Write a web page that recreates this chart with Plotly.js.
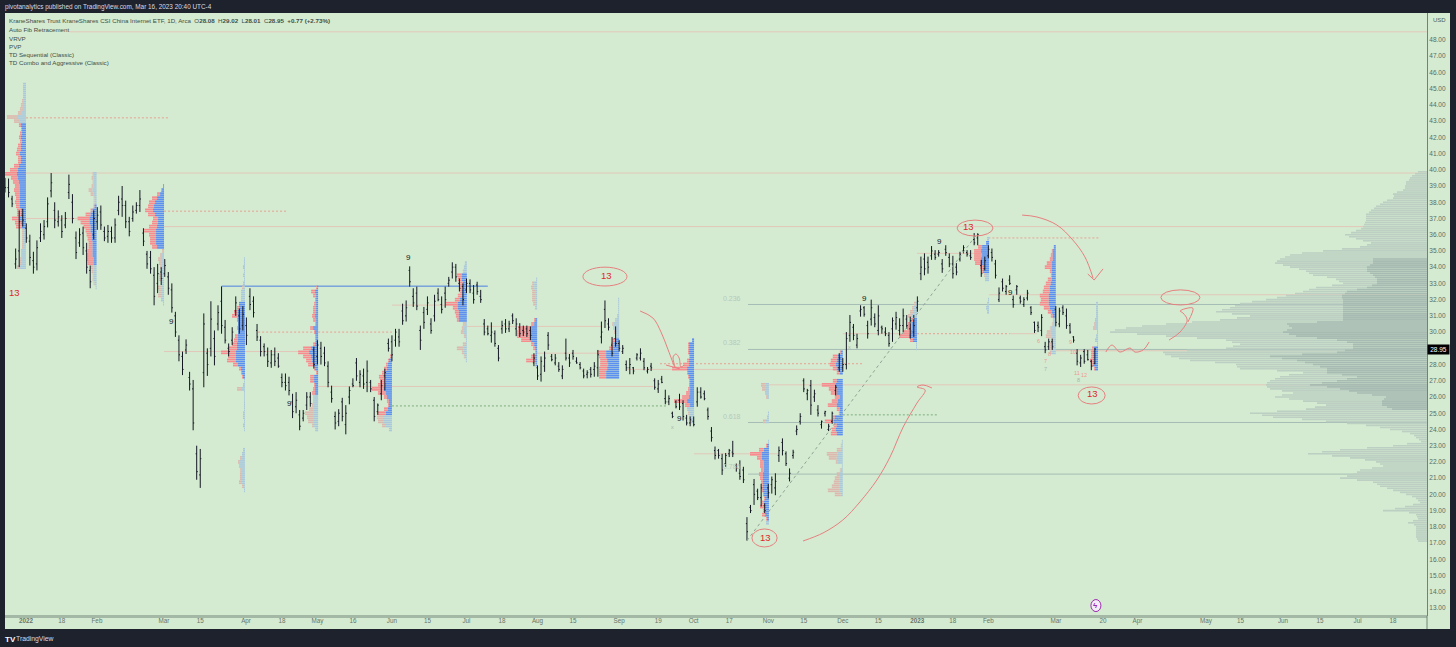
<!DOCTYPE html>
<html><head><meta charset="utf-8">
<script src="https://cdn.plot.ly/plotly-3.0.1.min.js"></script>
<style>html,body{margin:0;padding:0;background:#1e222d}#c{width:1456px;height:647px}</style></head>
<body><div id="c"></div>
<script>
const barHigh=[39.5,39.46,38.4,35.15,37.5,37.6,36.7,36.0,34.95,35.65,36.7,36.9,38.3,39.8,38.0,37.5,37.2,37.4,39.7,38.5,36.2,36.4,36.5,35.5,34.1,37.5,37.7,37.8,36.5,36.6,36.5,37.0,38.4,39.0,38.1,37.1,37.8,38.0,38.75,36.4,35.0,35.0,34.0,34.2,34.0,34.5,33.7,33.0,31.25,29.8,28.8,29.55,27.55,27.05,23.0,22.8,31.15,29.0,31.9,30.1,31.65,32.8,30.75,29.3,30.3,32.2,31.45,31.6,30.9,32.7,32.2,30.5,29.75,29.3,29.05,28.9,29.05,28.7,27.45,27.45,27.25,26.2,26.3,25.2,25.2,26.3,26.3,29.1,29.5,29.4,29.1,28.2,26.7,25.1,25.25,25.95,25.5,26.65,27.15,28.4,27.65,27.75,28.25,27.05,26.0,25.6,27.05,27.75,29.6,29.8,30.2,30.2,31.75,31.95,34.05,32.7,32.8,30.4,31.55,32.2,30.85,32.3,32.7,32.2,32.8,33.4,34.3,34.2,33.3,33.0,33.3,33.25,32.9,33.1,32.6,30.8,30.4,30.6,30.1,29.2,30.7,30.8,30.7,31.15,30.85,30.55,30.4,30.4,30.35,28.7,27.95,28.5,28.8,30.0,28.65,28.65,28.15,27.95,29.6,28.65,28.9,28.45,28.15,27.75,27.65,27.85,28.15,28.9,30.65,31.95,30.85,29.7,30.35,29.5,29.2,28.25,28.4,27.85,28.7,29.0,28.4,27.85,28.1,27.15,27.05,27.3,26.45,26.1,25.1,25.8,26.2,25.8,24.9,24.8,24.8,26.6,26.6,26.4,25.35,24.15,22.95,22.8,22.5,22.55,22.8,23.3,21.9,22.1,21.7,18.6,19.35,20.95,20.35,20.65,19.45,20.65,21.1,21.3,22.95,23.45,22.65,21.6,22.75,24.25,25.0,27.15,26.5,27.05,26.45,25.5,24.55,25.15,24.35,25.1,26.75,28.7,28.4,30.0,31.05,30.5,29.9,31.65,31.6,30.7,32.0,31.15,31.65,30.4,30.3,30.0,30.9,31.25,30.85,31.45,31.05,30.95,31.05,32.2,34.65,34.85,34.65,35.3,35.05,35.05,34.5,35.35,34.85,34.7,34.25,34.95,35.35,35.05,35.05,36.1,36.1,34.45,34.65,35.35,35.15,34.45,32.75,33.3,32.9,33.5,32.25,32.9,32.25,32.15,32.6,31.6,30.65,30.65,31.1,29.4,29.6,29.6,31.6,31.5,31.65,31.45,30.55,29.75,28.95,28.6,28.95,28.9,28.3,29.02];
const barLow=[38.6,38.3,37.7,33.9,34.0,36.5,35.5,34.1,33.6,33.8,35.55,35.7,36.45,38.3,36.4,36.5,35.8,36.4,38.2,36.7,34.5,35.25,34.75,33.6,32.7,35.7,36.3,36.3,35.6,35.5,35.5,35.5,37.2,37.1,36.4,35.9,36.8,37.3,37.4,35.3,33.9,33.6,31.65,32.4,32.9,33.4,32.3,31.2,29.7,28.2,27.35,28.65,26.4,23.95,20.9,20.4,26.6,27.3,28.5,27.95,30.1,29.9,29.3,28.5,29.2,31.0,29.9,30.1,29.2,31.35,30.9,29.45,28.5,28.5,27.85,27.8,27.9,27.8,26.6,26.4,26.1,24.7,25.0,23.95,24.5,25.2,25.4,27.75,28.0,28.0,27.9,26.6,25.65,24.0,24.2,24.5,23.7,25.55,26.6,27.0,26.6,26.5,26.3,26.3,24.5,24.9,25.8,26.4,28.8,28.2,29.1,29.1,30.45,30.65,32.8,31.55,31.35,28.9,30.2,31.05,29.9,30.65,31.9,31.15,31.5,32.8,33.3,33.1,32.5,31.65,32.4,32.4,31.75,32.3,31.8,29.8,29.8,29.35,29.1,28.2,29.9,29.95,30.0,30.5,29.75,29.7,29.75,29.7,29.5,27.9,27.05,26.95,27.55,28.9,28.2,27.95,27.55,27.1,28.25,27.85,28.3,28.05,27.7,27.15,27.15,27.2,27.25,27.25,29.3,30.25,30.1,28.5,29.1,28.8,28.65,27.6,27.4,27.4,28.25,28.25,27.65,27.45,27.6,26.45,26.25,26.85,25.55,25.5,24.7,25.3,25.2,24.55,24.25,24.2,24.2,25.4,25.9,25.8,24.6,23.25,22.15,22.2,21.2,21.7,22.3,22.3,21.4,20.9,20.7,17.15,18.85,19.35,19.65,19.25,18.85,19.75,20.05,19.95,22.0,22.4,21.75,20.8,22.2,23.65,24.3,26.3,25.8,24.9,25.7,24.8,24.05,24.8,23.9,24.35,26.1,27.55,27.55,27.7,29.4,29.5,29.0,30.95,30.95,29.6,30.4,30.3,29.8,29.9,29.75,29.1,29.4,30.15,29.8,30.0,30.2,29.6,29.7,31.25,33.2,33.5,33.6,34.45,34.45,34.65,33.65,34.7,34.0,33.3,33.5,34.35,34.85,34.65,34.45,35.35,35.35,33.4,33.8,34.55,34.35,33.3,31.85,32.5,32.3,32.9,31.5,32.3,31.75,31.55,31.95,31.05,29.95,30.0,29.75,28.7,28.9,28.9,30.35,30.3,31.05,30.2,29.9,29.35,27.95,27.85,28.05,28.25,27.65,28.01];
const barOpen=[39.2,38.9,38.2,34.2,35.0,37.2,36.4,35.6,34.4,34.2,35.8,36.0,36.8,38.7,37.5,36.8,36.9,36.6,38.6,38.0,35.8,35.5,36.1,35.0,33.8,36.0,36.8,37.4,36.2,35.9,36.2,35.8,37.5,38.2,37.8,36.8,37.0,37.5,37.8,36.1,34.8,34.6,33.5,33.0,33.7,33.6,33.4,32.6,31.0,29.5,28.5,28.9,27.2,26.5,22.5,21.2,27.5,28.7,29.0,29.6,30.5,31.9,30.3,29.0,29.5,31.3,31.0,30.4,30.4,32.2,31.9,30.1,29.5,29.1,28.6,28.1,28.6,28.4,27.2,26.9,26.9,25.7,25.4,24.9,24.7,25.5,26.0,28.9,28.5,29.0,28.7,27.9,26.3,24.8,24.5,25.7,24.3,26.0,26.8,28.1,26.9,27.3,26.9,26.9,25.8,25.1,26.2,27.3,29.3,29.4,29.5,29.7,31.3,31.0,33.8,32.2,32.4,30.1,31.2,31.4,30.5,31.0,32.4,31.7,32.4,33.0,33.7,34.0,33.0,32.8,32.6,33.0,32.4,32.9,32.2,30.5,30.2,29.8,29.9,29.0,30.2,30.5,30.2,31.0,30.2,30.3,30.1,30.2,30.1,28.1,27.8,27.4,27.9,29.8,28.5,28.1,27.9,27.3,28.7,28.4,28.7,28.2,28.0,27.6,27.4,27.7,27.7,27.8,29.7,31.4,30.5,29.2,29.6,29.3,28.8,28.0,27.8,27.8,28.4,28.4,28.2,27.6,27.9,27.0,26.5,27.1,25.9,25.7,25.0,25.7,25.8,25.6,24.7,24.4,24.5,25.7,26.3,26.2,25.2,23.9,22.7,22.7,22.2,21.9,22.5,22.6,21.8,21.3,21.5,18.2,19.2,20.6,20.2,19.8,19.3,20.4,20.6,20.4,22.4,23.2,22.5,21.0,22.4,23.9,24.5,27.0,26.2,26.7,26.0,25.2,24.3,25.0,24.0,24.5,26.4,27.8,27.8,28.0,29.8,30.3,29.2,31.3,31.5,30.4,30.8,30.9,30.1,30.3,30.0,29.8,30.2,30.5,30.1,30.4,30.8,30.2,30.0,31.5,33.6,34.5,34.3,34.7,34.8,34.8,34.2,35.1,34.6,34.2,34.0,34.5,35.0,34.9,34.7,35.7,35.8,34.1,33.9,34.7,34.9,34.2,32.0,33.1,32.5,33.2,32.0,32.6,32.1,31.7,32.1,31.5,30.6,30.4,30.1,29.1,29.1,29.4,31.4,30.5,31.5,31.0,30.4,29.7,28.7,28.1,28.8,28.6,28.2,28.08];
const barClose=[38.9,38.6,37.9,34.5,36.8,36.9,35.8,34.6,34.0,35.2,36.2,36.5,37.9,39.2,36.9,37.1,36.2,37.0,39.1,37.0,34.9,36.0,35.2,34.0,33.1,37.0,37.2,36.6,35.8,36.2,35.8,36.6,38.0,37.8,36.8,36.2,37.4,37.8,38.2,35.6,34.2,33.9,32.2,33.6,33.3,34.1,32.7,31.5,30.0,28.6,27.7,29.2,26.8,24.4,21.4,22.2,30.5,28.0,30.8,28.5,31.2,30.4,29.5,28.8,30.0,31.8,30.2,31.1,29.8,31.7,31.2,29.7,28.8,28.8,28.2,28.6,28.2,27.9,26.9,26.7,26.4,25.1,25.8,24.2,25.0,26.0,25.6,28.0,29.2,28.5,28.1,26.9,25.9,24.4,25.0,24.8,25.0,26.4,26.7,27.3,27.4,26.8,27.6,26.5,24.8,25.5,26.7,27.5,29.0,28.6,30.0,29.4,30.7,31.5,33.1,31.8,31.6,29.5,30.6,31.8,30.1,31.9,32.0,31.4,32.0,33.2,34.0,33.4,32.7,32.0,33.0,32.6,32.0,32.5,32.0,30.0,29.9,30.0,29.3,28.4,30.4,30.2,30.5,30.7,30.5,29.9,30.0,29.9,29.8,28.4,27.3,28.2,28.4,29.2,28.3,28.4,27.7,27.7,28.4,28.1,28.5,28.1,27.8,27.3,27.5,27.4,27.9,28.6,30.0,30.7,30.3,28.7,29.3,29.0,29.0,27.8,28.0,27.6,28.6,28.7,27.8,27.7,27.8,26.6,26.8,26.9,25.7,25.9,24.8,25.4,25.4,24.8,24.4,24.6,24.3,26.3,26.0,25.9,24.8,23.5,22.4,22.4,21.5,22.4,22.7,22.5,21.6,21.1,20.9,17.7,19.0,20.0,19.8,20.4,19.0,20.1,20.9,20.8,22.7,22.7,21.9,21.3,22.6,24.0,24.8,26.5,26.4,25.5,26.2,25.0,24.5,25.1,24.2,25.0,26.6,28.4,28.0,29.6,30.6,29.8,29.6,31.4,31.1,29.9,31.5,30.5,31.0,30.2,29.9,29.3,30.7,30.9,30.4,31.0,30.4,30.7,30.4,31.9,34.0,33.9,34.0,35.0,34.6,34.9,33.9,34.9,34.2,33.6,33.7,34.8,35.2,34.8,34.6,35.5,36.0,33.6,34.4,35.1,34.6,33.5,32.4,32.7,32.8,33.0,31.7,32.8,31.9,32.0,32.4,31.2,30.1,30.3,30.9,28.9,29.4,29.1,30.6,31.3,31.2,30.4,30.0,29.5,28.2,28.4,28.2,28.3,27.9,28.95];

const yTicks=[13,14,15,16,17,18,19,20,21,22,23,24,25,26,27,28,29,30,31,32,33,34,35,36,37,38,39,40,41,42,43,44,45,46,47,48];
const xTickVals=[5.9,16,25.9,44.8,55,67.9,78,88,98,109,119,130,140,150,160,173,184,194,204,215,225,236,246,257,267,277,296,309.3,319,338.3,348,360,370.4,381,391];
const xTickText=['<b>2022</b>','18','Feb','Mar','15','Apr','18','May','16','Jun','15','Jul','18','Aug','15','Sep','19','Oct','17','Nov','15','Dec','15','<b>2023</b>','18','Feb','Mar','20','Apr','May','15','Jun','15','Jul','18'];

const up1=[2,2,2,2,2,3,3,4,9,6,5,4,4,5,4,5,5,6,5,5,7,8,9,8,7,6,6,6,6,6,6,5,5,6,5,4,3,3,3,3,3,4,4,5,5,6];
const down1=[1,1,1,1,2,2,3,4,10,6,2,1,2,2,2,3,4,4,3,3,5,8,12,7,6,5,6,5,4,5,4,4,4,8,6,6,1,1,1,1,1,1,1,1,1,3];
const up2=[3,3,3,3,4,3,2,2,2,4,6,7,7,6,6,5,5,4,4,4,4,3,3,3,3,3,3,2,1];
const down2=[1,2,1,2,4,3,1,1,1,2,5,12,9,7,5,5,4,4,4,5,6,7,6,3,2,1,1,1,0];
const up3=[1,2,4,7,9,10,11,9,6,6,7,8,8,8,8,7,1,2,3,3,2,2,3,3,2,2,2,2,2,1];
const down3=[0,1,3,5,6,6,8,7,5,6,8,12,7,6,6,5,1,2,3,2,2,1,2,2,1,4,3,4,1,0];
const up4=[1,1,1,1,1,1,1,2,3,3,3,6,6,7,7,7,7,7,7,7,7,8,8,9,9,9,7,4,3,2,1,1,3,1,1,1,1,1,1,1,1,1,1];
const down4=[0,0,1,0,1,0,1,1,1,1,1,0,2,4,6,1,0,1,0,3,4,5,9,15,8,9,5,2,1,1,0,1,5,0,0,0,0,0,1,1,0,1,0];
const up4b=[2,3,3,5,5,4,4,4,3,2,1];
const down4b=[0,0,2,2,1,1,1,1,3,1,0];
const up5=[1,3,2,2,2,2,2,3,2,2,5,3,2,2,3,7,9,7,6,5,3,1,4,4,3,3,3,4,4,5,5,5,5,5,4,2];
const down5=[1,4,3,1,2,3,3,3,3,1,3,1,1,1,2,8,11,8,6,5,1,1,4,4,1,2,3,1,1,1,4,8,6,5,2,1];
const up6=[1,3,4,5,6,7,6,7,8,6,5,3,3,4,6,9,8,6,2];
const down6=[1,1,2,3,4,6,6,7,12,8,3,2,1,4,8,6,6,4,1];
const up7=[2,3,3,5,5,4,4,5,5,7,9,9,8,8,8,2,3,3,2,1,2,3,3,2,1];
const down7=[0,0,1,5,4,4,3,2,4,5,12,5,4,3,2,2,2,3,1,0,2,7,2,1,0];
const up8=[1,3,3,2,2,2,2,1,0,0,2,3,6,7,7,6,3,2,1,2,2,1];
const down8=[0,2,3,3,3,3,2,1,0,0,1,3,13,13,13,10,3,2,1,4,9,1];
const up9=[1,1,1,1,2,3,6,5,4,3,4,5,6,13,13,12,11,12,13,13];
const down9=[0,0,0,0,0,1,1,1,1,0,3,3,4,9,7,7,8,8,7,7];
const up10=[2,5,5,5,4,5,5,7,6,5,4,4,4,4,5,7,4,6,5,4,3,1];
const down10=[0,1,1,1,1,2,6,15,1,1,1,1,2,4,7,13,5,1,1,1,1,0];
const up11=[3,3,3,2,0,0,0,1,1,3,0,0,0,0,1,2,5,7,7,5,5,5,6,6,6,6,6,5,4,5,4,3,4,2,3];
const down11=[5,4,1,1,0,0,0,0,1,3,0,0,0,0,0,1,5,12,5,4,4,3,4,3,2,1,1,1,1,2,5,3,3,1,0];
const up12=[6,7,6,6,3,5,6,3,3,8,9,6,7,6,0,1,1,2,5,6,5,1,2,3,3,3,3,3,2];
const down12=[4,14,8,6,5,6,9,3,1,2,9,3,4,6,0,0,1,4,11,8,2,0,1,3,5,6,8,12,6];
const up13=[2,5,6,7,6,3];
const down13=[1,5,6,6,4,3];
const up14=[2,3,4,5,4,5,5,6,8,4,1,1];
const down14=[1,2,3,4,2,4,5,8,10,3,0,0];
const up15=[2,3,7,8,7,8,8,6,6,4,3];
const down15=[0,0,4,7,8,7,6,3,2,1,1];
const up15b=[1,2,3,2];
const down15b=[0,0,0,0];
const up16=[2,3,3,3,4,4,4,4,4,5,6,6,7,7,7,6,4,3,2,3,5,5,4,3,4,4,4];
const down16=[0,1,2,3,5,7,2,1,4,5,6,7,9,8,9,6,4,2,1,1,1,4,6,2,2,2,2];
const up17=[2,2,2,2,2,3,3,1,2,3,1,4,5,5,5,5,3];
const down17=[0,0,0,0,1,1,2,0,0,0,0,2,2,2,3,2,1];
// anchor bar, top row price, value-area top, value-area bottom, up rows, down rows
const profileList=[
[5.9,45.25,42.75,36.5,up1,down1],[25.8,39.75,37.75,34.25,up2,down2],[44.8,39,39,35.25,up3,down3],
[67.6,34.5,31.75,27.25,up4,down4],[67.6,22.75,0,0,up4b,down4b],[88.2,32.75,32.75,26.25,up5,down5],
[109,28.5,28.5,25,up6,down6],[130.1,34.25,33.5,30.75,up7,down7],[149.9,33.25,30.75,28,up8,down8],
[173,32,29.5,27.25,up9,down9],[194.1,29.5,29.5,25.5,up10,down10],[215.2,26.75,23,18.5,up11,down11],
[236,27,27,23.75,up12,down12],[236,28.75,28.75,27.5,up13,down13],[256.9,31.75,30.75,29.5,up14,down14],
[277.2,35.75,35.5,33.75,up15,down15],[277.2,32,0,0,up15b,down15b],[296,35.25,35.25,31,up16,down16],[307.9,31.75,29,27.75,up17,down17]];

const vrvpTop=39.875;
const vrvpTotal=[9,12,15,17,18,21,21,22,22,24,30,34,33,34,40,44,47,51,53,56,58,61,61,61,61,62,63,64,66,71,76,82,78,71,64,56,60,67,85,104,125,137,142,147,150,152,144,137,128,121,118,114,100,91,88,84,95,111,118,124,132,141,150,161,175,187,192,197,205,211,195,177,190,207,235,261,285,301,312,317,290,261,230,201,195,187,194,201,240,264,262,256,248,237,212,191,190,187,150,124,138,147,152,157,160,161,160,157,145,134,145,152,138,124,110,101,112,121,150,177,165,154,125,101,80,61,47,37,25,17,13,11,8,6,20,34,60,87,105,119,95,77,62,51,47,44,55,67,70,74,80,87,70,54,50,47,40,34,27,21,15,11,9,7,14,22,32,44,18,11,10,9,14,19,13,11,11,11,11,11,11,10,9];
const vrvpInnerTop=34.5;
const vrvpInner=[54,54,54,57,60,60,60,57,54,52,50,50,50,55,60,70,80,82,85,85,84,84,84,84,84,84,84,84,84,84,84,110,140,138,135,140,144,138,131,110,90,80,74,74,74,82,90,125,157,145,130,122,114,107,100,100,100,85,70,80,90,105,117,100,87,78,70,55,41,43,45,45,45,40,35];

// x0 bar, x1 bar, price
const fibLines=[[209.3,400.5,31.7],[209.3,400.5,28.93],[209.3,400.5,24.43],[209.3,400.5,21.25]];
const pocLines=[[18.3,400.5,48.5],[0,400.5,39.8],[5.9,25.8,37],[44.8,400.5,36.5],[44.8,88.2,28.8],[88.2,182.6,26.65],[109,130,31.66],[130.1,168,30.35],[149.9,168,28.7],[175,236,27.7],[194.1,218,22.5],[215.2,400.5,26.75],[236,256.9,29.9],[283,290.6,29.9],[256.9,275,34.85],[277.2,400.5,32.3],[296,400.5,28.85]];
const redDotted=[[5.9,46.3,43.2],[44.8,79.4,37.45],[71.3,109,30],[184.5,241.5,28.05],[256.9,283,29.9],[277,308,35.8]];
const greenDotted=[[109,186.5,25.45],[236,262.5,24.9]];
const ellipses=[[162.8,175.2,32.84,34.0],[210.4,217.5,16.76,17.87],[268.2,278.3,35.92,36.9],[302.3,309.9,25.57,26.62],[325.6,336.6,31.67,32.6]];

const fibTrendX=[209,274]; const fibTrendY=[17.15,36.1];
const penA_x=[178.9,182.5,184.8,186.8,188.7,188.2,189,189.9,190.4,191.3]; const penA_y=[31.3,30.87,30,28.9,27.85,28.47,28.65,28.4,27.85,27.97];
const penA2_x=[186.2,190.1]; const penA2_y=[27.97,27.73];
const penB_x=[224.8,230.4,236,240.8,245.6,249.3,253,256.9,259.2,256.9,258.6,261.1]; const penB_y=[17.13,17.62,18.42,19.53,20.89,22.3,24.15,25.63,26.43,26.62,26.74,26.56];
const penC_x=[286.5,290.7,296.3,300.8,304.2,306.5]; const penC_y=[37.21,37.09,36.6,35.67,34.63,33.33];
const penC2_x=[305,306.8,309.3]; const penC2_y=[33.58,33.21,33.89];
const penD_x=[310.1,311.8,314.1,316.9,318.3,320.6,322.3]; const penD_y=[28.77,29.2,28.77,29.02,28.77,28.9,29.39];
const penE_x=[327.9,331,333,331.8,331,334.6,333.2]; const penE_y=[29.51,30,30.75,31.18,31.3,31.48,30.62];

const nineX=[46.8,80,113.8,190.1,242,263.1,283.1]; const nineY=[30.68,25.63,34.57,24.65,32.1,35.61,32.47];
const thirteenX=[2.8,169.3,214.1,271.3,306.2]; const thirteenY=[32.41,33.46,17.37,36.48,26.19];
const fibLabels=['0.236','0.382','0.618','0.786']; const fibLabelY=[32.1,29.33,24.83,21.69];
const smallText=['6','7','7','8','9','10','11','12','8','x','x'];
const smallX=[291,293.2,293.2,294.1,300,300.8,302,303.9,302.3,187.9,238];
const smallY=[29.45,28.2,27.75,28.65,29.39,28.77,27.48,27.36,27.05,24.15,29.08];
const smallCol=['#ee9a90','#ee9a90','#a9b5a8','#ee9a90','#ee9a90','#ee9a90','#ee9a90','#ee9a90','#a9b5a8','#a9b5a8','#a9b5a8'];

const pxPerBar=3.55, volToBars=1/pxPerBar, rowStep=0.25, fineStep=0.125, fineHeight=0.1;
const COL={bg:'#d4ebd1',frame:'#1e222d',coreUp:'#5b8ff0',coreDown:'#f78b8e',fadeUp:'#a9c8dc',fadeDown:'#dcb8ae',pen:'#e77f7f',poc:'#e2c7b8',fib:'#a5bdb6'};

const bucket=()=>({y:[],x:[],base:[]});
const cu=bucket(),cd=bucket(),fu=bucket(),fd=bucket();
profileList.forEach(([anchor,top,vt,vb,up,down])=>{
  up.forEach((u,k)=>{
    const p=top-k*rowStep, core=p<=vt&&p>=vb, d=down[k];
    const U=core?cu:fu, D=core?cd:fd;
    [p+fineStep/2,p-fineStep/2].forEach(py=>{
      if(u>0){U.y.push(py);U.x.push(u*volToBars);U.base.push(anchor-u*volToBars);}
      if(d>0){D.y.push(py);D.x.push(d*volToBars);D.base.push(anchor-(u+d)*volToBars);}
    });
  });
});
const barT=(b,color)=>({type:'bar',orientation:'h',y:b.y,x:b.x,base:b.base,width:fineHeight,marker:{color,line:{width:0}},hoverinfo:'skip',showlegend:false});
const vrvpEnd=400.56;
const vo=bucket(); vrvpTotal.forEach((v,k)=>{vo.y.push(vrvpTop-k*fineStep);vo.x.push(v*volToBars);vo.base.push(vrvpEnd-v*volToBars);});
const vi=bucket(); vrvpInner.forEach((v,k)=>{vi.y.push(vrvpInnerTop-k*fineStep);vi.x.push(v*volToBars);vi.base.push(vrvpEnd-v*volToBars);});

const pen=(x,y,shape)=>({type:'scatter',mode:'lines',x,y,line:{color:COL.pen,width:1,shape:shape||'spline',smoothing:1},hoverinfo:'skip',showlegend:false});
const data=[
 barT(vo,'#bccfc2'),barT(vi,'#a8bbb2'),
 barT(fd,COL.fadeDown),barT(fu,COL.fadeUp),barT(cd,COL.coreDown),barT(cu,COL.coreUp),
 {type:'ohlc',x:barHigh.map((_,i)=>i),open:barOpen,high:barHigh,low:barLow,close:barClose,tickwidth:0.3,
  increasing:{line:{color:'#131722',width:1}},decreasing:{line:{color:'#131722',width:1}},hoverinfo:'skip',showlegend:false},
 {type:'scatter',mode:'lines',x:fibTrendX,y:fibTrendY,line:{color:'#8ea596',width:1,dash:'3px,3px'},hoverinfo:'skip',showlegend:false},
 pen(penA_x,penA_y),pen(penA2_x,penA2_y),pen(penB_x,penB_y),pen(penC_x,penC_y),pen(penC2_x,penC2_y,'linear'),pen(penD_x,penD_y),pen(penE_x,penE_y)
];

const hline=(l,color,dash,w)=>({type:'line',layer:'below',xref:'x',yref:'y',x0:l[0],x1:l[1],y0:l[2],y1:l[2],line:{color,width:w||1,dash:dash||'solid'}});
const R=1+23/1422, B=-13/603;
const shapes=[
 {type:'rect',layer:'below',xref:'paper',yref:'paper',x0:1,x1:R,y0:B,y1:1,fillcolor:COL.bg,line:{width:0}},
 {type:'rect',layer:'below',xref:'paper',yref:'paper',x0:0,x1:R,y0:B,y1:0,fillcolor:COL.bg,line:{width:0}},
 {type:'rect',layer:'below',xref:'paper',yref:'paper',x0:0,x1:1,y0:-2/603,y1:1/603,fillcolor:'#a3b9a6',line:{width:0}},
 {type:'line',layer:'below',xref:'paper',yref:'paper',x0:1,x1:1,y0:B,y1:0,line:{color:'#6e8475',width:1}},
 ...fibLines.map(l=>hline(l,COL.fib)),
 ...pocLines.map(l=>hline(l,COL.poc)),
 ...redDotted.map(l=>hline(l,'#e8a090','2px,2px')),
 ...greenDotted.map(l=>hline(l,'#7cae7c','2px,2px')),
 hline([61,136,32.83],'#4a7fe0'),
 {type:'line',layer:'below',xref:'x',yref:'y',x0:61,x1:61,y0:30.1,y1:32.83,line:{color:'#4a7fe0',width:1}},
 ...ellipses.map(e=>({type:'circle',layer:'above',xref:'x',yref:'y',x0:e[0],x1:e[1],y0:e[2],y1:e[3],line:{color:COL.pen,width:1}})),
 {type:'circle',layer:'above',xref:'x',yref:'y',xsizemode:'pixel',ysizemode:'pixel',xanchor:307.3,yanchor:13.15,x0:-5,x1:5,y0:-6,y1:6,fillcolor:'#f3ecf6',line:{color:'#9c27b0',width:1}}
];

const note=(text,x,y,size,color,extra)=>Object.assign({text,x,y,xref:'x',yref:'y',showarrow:false,font:{size,color},xanchor:'center',yanchor:'middle'},extra||{});
const page=(text,pxX,pxY,size,color)=>({text,xref:'paper',yref:'paper',x:(pxX-7)/1422,y:(616-pxY)/603,xanchor:'left',yanchor:'middle',showarrow:false,font:{size,color}});
const annotations=[
 page('pivotanalytics published on TradingView.com, Mar 16, 2023 20:40 UTC-4',5,7.5,6.4,'#d8dbe2'),
 page('KraneShares Trust KraneShares CSI China Internet ETF, 1D, Arca &nbsp;O<b>28.08</b> &nbsp;H<b>29.02</b> &nbsp;L<b>28.01</b> &nbsp;C<b>28.95</b> &nbsp;<b>+0.77 (+2.73%)</b>',9,20.5,6.2,'#3f4d46'),
 page('Auto Fib Retracement',9,29.5,6.2,'#3f4d46'),
 page('VRVP',9,38,6.2,'#3f4d46'),
 page('PVP',9,46.5,6.2,'#3f4d46'),
 page('TD Sequential (Classic)',9,54.5,6.2,'#3f4d46'),
 page('TD Combo and Aggressive (Classic)',9,63,6.2,'#3f4d46'),
 page('USD',1433,19.5,6,'#4c5c53'),
 page('<b>TV</b>',5,639,8,'#ffffff'),
 page('TradingView',16,639,6.8,'#d8dbe2'),
 {text:'28.95',xref:'paper',yref:'y',x:(1439-5)/1422,y:28.95,xanchor:'center',yanchor:'middle',showarrow:false,font:{size:6.5,color:'#ffffff'},bgcolor:'#000000',width:21,height:9,borderpad:0},
 ...nineX.map((x,i)=>note('9',x,nineY[i],8,'#131722')),
 ...thirteenX.map((x,i)=>note('13',x,thirteenY[i],9.5,'#e0262b')),
 ...fibLabels.map((t,i)=>note(t,204.8,fibLabelY[i],7,'#b6c8bc')),
 ...smallText.map((t,i)=>note(t,smallX[i],smallY[i],5.5,smallCol[i])),
 note('<b>ϟ</b>',307.3,13.15,8,'#9c27b0')
];

const layout={
 width:1456,height:647,margin:{l:5,r:29,t:13,b:31,pad:0},
 paper_bgcolor:COL.frame,plot_bgcolor:COL.bg,barmode:'overlay',showlegend:false,hovermode:false,
 font:{family:'"Liberation Sans",Arial,sans-serif',size:7,color:'#4c5c53'},
 xaxis:{range:[0,400.56],tickmode:'array',tickvals:xTickVals,ticktext:xTickText,showgrid:false,zeroline:false,showline:false,ticks:'',
  tickfont:{size:6.3,color:'#66756a'},rangeslider:{visible:false},fixedrange:true},
 yaxis:{range:[12.507,49.66],side:'right',tickmode:'array',tickvals:yTicks,tickformat:'.2f',showgrid:false,zeroline:false,showline:true,linecolor:'#6e8475',linewidth:1,ticks:'',
  tickfont:{size:6.5,color:'#5b6a60'},fixedrange:true},
 shapes,annotations
};
Plotly.newPlot('c',data,layout,{displayModeBar:false,staticPlot:true});
</script></body></html>
